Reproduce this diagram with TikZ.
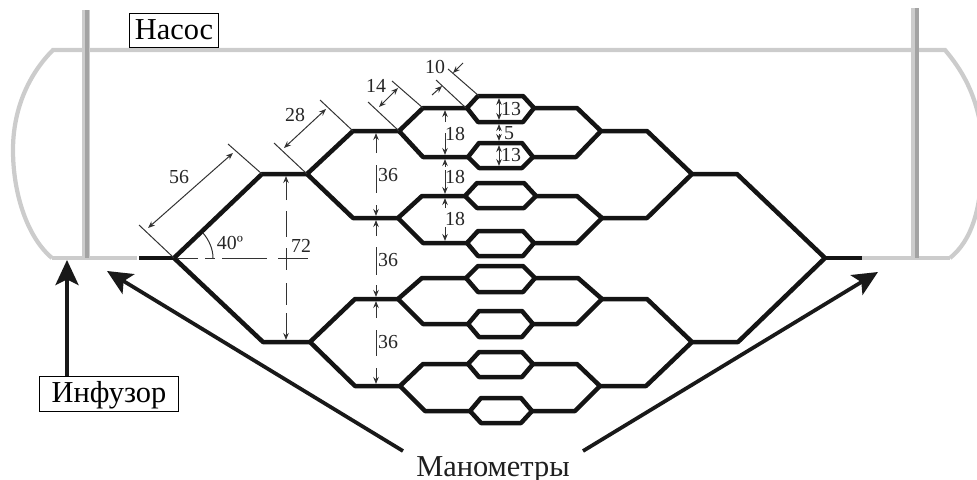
\documentclass[tikz,border=0pt]{standalone}
\usepackage{fontspec}
\setmainfont{Liberation Serif}
\usetikzlibrary{arrows.meta}
\tikzset{
	pipe/.style={line width=0.9mm, color=black!92, line join=round},
	shell/.style={line width=0.85mm, color=black!20},
	tubelight/.style={line width=1.7mm, color=black!20},
	tubedark/.style={line width=0.8mm, color=black!36},
	dimline/.style={line width=0.2mm, color=black!80},
	dimtip/.style={dimline, -{Stealth[length=1.4mm, width=1.1mm]}},
	dimboth/.style={dimline, {Stealth[length=1.4mm, width=1.1mm]}-{Stealth[length=1.4mm, width=1.1mm]}},
	bigarrow/.style={line width=0.75mm, color=black!90, -{Stealth[length=5mm, width=4.6mm, inset=1.1mm]}},
	boxlabel/.style={draw, line width=0.2mm, inner sep=0pt, text height=4.2mm, text depth=0.7mm, font=\fontsize{17.3}{20}\selectfont},
	numlabel/.style={inner sep=0pt, color=black!85, font=\fontsize{11.3}{12}\selectfont},
}
\begin{document}
\begin{tikzpicture}[x=0.02cm, y=-0.02cm]
	%%%%% START %%%%%
	\clip (0, 0) rectangle (977, 480);

	% shell
	\draw[shell] (52, 258) .. controls (28, 238) and (13, 195) .. (13, 150) .. controls (13, 110) and (28, 75) .. (53, 50) -- (945, 50) .. controls (962, 70) and (977, 95) .. (982, 135);
	\draw[shell] (982, 170) .. controls (980, 210) and (972, 240) .. (950, 258);
	\draw[shell] (52, 258) -- (137, 258);
	\draw[shell] (862, 258) -- (950, 258);

	% tubes
	\draw[tubelight] (86, 10) -- (86, 258);
	\draw[tubedark] (87, 10) -- (87, 258);
	\draw[tubelight] (915, 8) -- (915, 258);
	\draw[tubedark] (916.5, 8) -- (916.5, 258);

	% main branches
	\draw[pipe] (139, 258) -- (174, 258);
	\draw[pipe] (174, 258) -- (262, 174) -- (307, 174);
	\draw[pipe] (174, 258) -- (263, 342) -- (310, 342);
	\draw[pipe] (825, 258) -- (737, 174) -- (692, 174);
	\draw[pipe] (825, 258) -- (738, 342) -- (692, 342);
	\draw[pipe] (825, 258) -- (862, 258);

	% second level
	\draw[pipe] (307, 174) -- (353, 131) -- (399, 131);
	\draw[pipe] (307, 174) -- (353, 218) -- (398, 218);
	\draw[pipe] (310, 342) -- (355, 299) -- (398, 299);
	\draw[pipe] (310, 342) -- (355, 386) -- (400, 386);
	\draw[pipe] (692, 174) -- (647, 131) -- (601, 131);
	\draw[pipe] (692, 174) -- (647, 218) -- (602, 218);
	\draw[pipe] (692, 342) -- (647, 299) -- (602, 299);
	\draw[pipe] (692, 342) -- (646, 386) -- (600, 386);

	% third level
	\draw[pipe] (399, 131) -- (423, 108) -- (467, 108);
	\draw[pipe] (399, 131) -- (423, 157) -- (468, 157);
	\draw[pipe] (398, 218) -- (422, 196) -- (465, 196);
	\draw[pipe] (398, 218) -- (423, 243) -- (467, 243);
	\draw[pipe] (398, 299) -- (422, 278) -- (466, 278);
	\draw[pipe] (398, 299) -- (423, 324) -- (468, 324);
	\draw[pipe] (400, 386) -- (423, 364) -- (468, 364);
	\draw[pipe] (400, 386) -- (425, 411) -- (470, 411);
	\draw[pipe] (601, 131) -- (577, 108) -- (534, 108);
	\draw[pipe] (601, 131) -- (576, 157) -- (533, 157);
	\draw[pipe] (602, 218) -- (577, 196) -- (536, 196);
	\draw[pipe] (602, 218) -- (577, 243) -- (534, 243);
	\draw[pipe] (602, 299) -- (578, 278) -- (535, 278);
	\draw[pipe] (602, 299) -- (577, 324) -- (533, 324);
	\draw[pipe] (600, 386) -- (577, 364) -- (533, 364);
	\draw[pipe] (600, 386) -- (575, 411) -- (532, 411);

	% hexagons
	\draw[pipe] (467, 108) -- (478, 96) -- (523, 96) -- (534, 108) -- (523, 122) -- (478, 122) -- cycle;
	\draw[pipe] (468, 157) -- (479, 143) -- (522, 143) -- (533, 157) -- (522, 168) -- (479, 168) -- cycle;
	\draw[pipe] (465, 196) -- (477, 183) -- (524, 183) -- (536, 196) -- (524, 208) -- (477, 208) -- cycle;
	\draw[pipe] (467, 243) -- (478, 231) -- (523, 231) -- (534, 243) -- (523, 256) -- (478, 256) -- cycle;
	\draw[pipe] (466, 278) -- (478, 266) -- (523, 266) -- (535, 278) -- (523, 292) -- (478, 292) -- cycle;
	\draw[pipe] (468, 324) -- (479, 311) -- (522, 311) -- (533, 324) -- (522, 337) -- (479, 337) -- cycle;
	\draw[pipe] (468, 364) -- (479, 352) -- (522, 352) -- (533, 364) -- (522, 377) -- (479, 377) -- cycle;
	\draw[pipe] (470, 411) -- (481, 398) -- (521, 398) -- (532, 411) -- (521, 423) -- (481, 423) -- cycle;

	% slanted dimensions
	\draw[dimline] (228, 144) -- (262, 174);
	\draw[dimline] (139, 225) -- (174, 258);
	\draw[dimboth] (148, 228) -- (233, 153);
	\draw[dimline] (274, 143) -- (307, 174);
	\draw[dimline] (320, 100) -- (353, 131);
	\draw[dimboth] (284, 148) -- (326, 109);
	\draw[dimline] (368, 102) -- (399, 131);
	\draw[dimline] (392, 81) -- (423, 108);
	\draw[dimboth] (379, 107) -- (398, 88);
	\draw[dimline] (448, 69) -- (479, 96);
	\draw[dimline] (436, 80) -- (466, 108);
	\draw[dimtip] (463, 63) -- (453, 73);
	\draw[dimtip] (432, 95) -- (442, 86);

	% angle
	\draw[dimline] (177, 258) -- (198, 258);
	\draw[dimline] (205, 258) -- (215, 258);
	\draw[dimline] (222, 258) -- (267, 258);
	\draw[dimline] (278, 258) -- (308, 258);
	\draw[dimline] (213, 258) .. controls (213, 249) and (209, 240) .. (203, 233);

	% dimension 72
	\draw[dimtip] (286, 200) -- (286, 176);
	\draw[dimline] (286, 211) -- (286, 237);
	\draw[dimline] (286, 248) -- (286, 270);
	\draw[dimline] (286, 283) -- (286, 305);
	\draw[dimtip] (286, 313) -- (286, 340);

	% dimensions 36
	\draw[dimtip] (376, 153) -- (376, 133);
	\draw[dimline] (376, 165) -- (376, 193);
	\draw[dimtip] (376, 205) -- (376, 216);
	\draw[dimtip] (376, 236) -- (376, 220);
	\draw[dimline] (376, 247) -- (376, 275);
	\draw[dimtip] (376, 285) -- (376, 297);
	\draw[dimtip] (376, 318) -- (376, 301);
	\draw[dimline] (376, 330) -- (376, 356);
	\draw[dimtip] (376, 368) -- (376, 384);

	% dimensions 18
	\draw[dimtip] (445, 122) -- (445, 110);
	\draw[dimtip] (445, 133) -- (445, 155);
	\draw[dimtip] (445, 167) -- (445, 159);
	\draw[dimtip] (445, 170) -- (445, 194);
	\draw[dimtip] (445, 208) -- (445, 198);
	\draw[dimtip] (445, 227) -- (445, 241);

	% dimensions 13 and 5
	\draw[dimboth] (499, 98) -- (499, 120);
	\draw[dimtip] (499, 131) -- (499, 124);
	\draw[dimtip] (499, 134) -- (499, 141);
	\draw[dimboth] (499, 145) -- (499, 166);

	% numbers
	\node[numlabel] (num56) at (179, 177) {56};
	\node[numlabel] (num28) at (295, 115) {28};
	\node[numlabel] (num14) at (376, 86) {14};
	\node[numlabel] (num10) at (435, 67) {10};
	\node[numlabel] (num40) at (230, 243) {40º};
	\node[numlabel] (num72) at (301, 246) {72};
	\node[numlabel] (num36a) at (388, 175) {36};
	\node[numlabel] (num36b) at (388, 260) {36};
	\node[numlabel] (num36c) at (388, 342) {36};
	\node[numlabel] (num18a) at (455, 134) {18};
	\node[numlabel] (num18b) at (455, 177) {18};
	\node[numlabel] (num18c) at (455, 219) {18};
	\node[numlabel] (num13a) at (511, 109) {13};
	\node[numlabel] (num5) at (509, 133) {5};
	\node[numlabel] (num13b) at (511, 155) {13};

	% labels and arrows
	\node[boxlabel, minimum width=1.8cm, minimum height=0.7cm] (nasos) at (174, 30.5) {Насос};
	\node[boxlabel, minimum width=2.8cm, minimum height=0.7cm] (infuzor) at (109, 393.5) {Инфузор};
	\node[inner sep=0pt, anchor=base, font=\fontsize{17.3}{20}\selectfont, color=black!88] (manometry) at (493, 476) {Манометры};

	\coordinate (infuzortip) at (67, 260);
	\coordinate (manotipL) at (107, 271);
	\coordinate (manotipR) at (878, 272);
	\coordinate (manostartL) at (403, 451);
	\coordinate (manostartR) at (583, 451);
	\draw[bigarrow] (infuzor.north -| infuzortip) -- (infuzortip);
	\draw[bigarrow] (manostartL) -- (manotipL);
	\draw[bigarrow] (manostartR) -- (manotipR);
	%%%%% END %%%%%
\end{tikzpicture}
\end{document}
